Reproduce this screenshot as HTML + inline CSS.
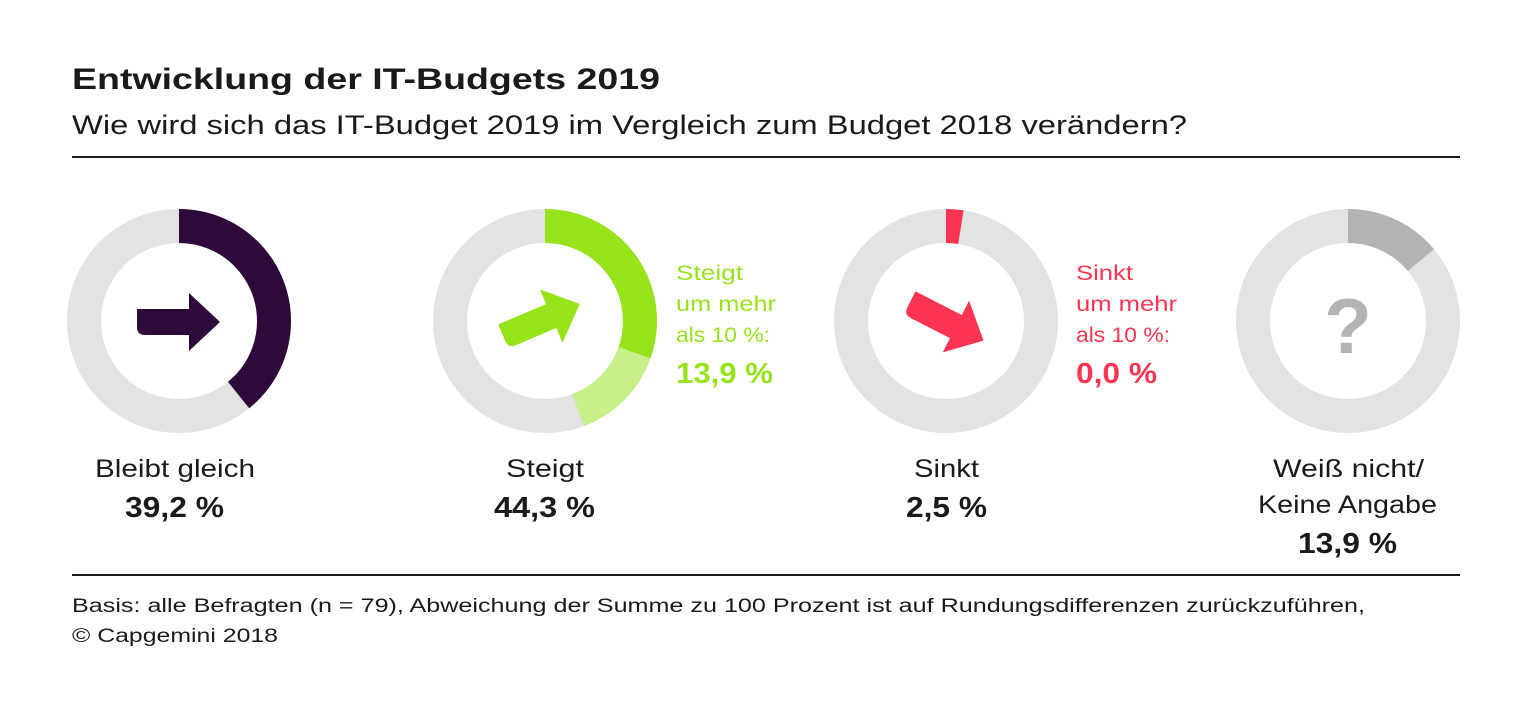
<!DOCTYPE html>
<html><head><meta charset="utf-8"><style>
html,body{margin:0;padding:0;background:#fff;}
body{width:1535px;height:709px;overflow:hidden;}
text{font-family:"Liberation Sans",sans-serif;}
</style></head><body>
<svg width="1535" height="709" viewBox="0 0 1535 709" xmlns="http://www.w3.org/2000/svg">
<defs>
<path id="arr" d="M-42,-13 L10,-13 L10,-29 L41,0 L10,29 L10,13 L-34,13 Q-42,13 -42,5 Z"/>
</defs>
<text x="72" y="89" font-size="30" font-weight="bold" fill="#1a1a1a" textLength="588" lengthAdjust="spacingAndGlyphs">Entwicklung der IT-Budgets 2019</text>
<text x="72" y="134" font-size="27" fill="#1a1a1a" textLength="1115" lengthAdjust="spacingAndGlyphs">Wie wird sich das IT-Budget 2019 im Vergleich zum Budget 2018 verändern?</text>
<rect x="72" y="156" width="1388" height="2" fill="#1a1a1a"/>
<rect x="72" y="574" width="1388" height="2" fill="#1a1a1a"/>
<text x="72" y="612" font-size="19" fill="#1a1a1a" textLength="1293" lengthAdjust="spacingAndGlyphs">Basis: alle Befragten (n = 79), Abweichung der Summe zu 100 Prozent ist auf Rundungsdifferenzen zurückzuführen,</text>
<text x="72" y="642" font-size="19" fill="#1a1a1a" textLength="206" lengthAdjust="spacingAndGlyphs">© Capgemini 2018</text>

<g fill="none" stroke-width="34">
<circle cx="179" cy="321" r="95" stroke="#e3e3e3"/>
<circle cx="179" cy="321" r="95" stroke="#2e0a3c" stroke-dasharray="234 1000" transform="rotate(-90 179 321)"/>
<circle cx="545" cy="321" r="95" stroke="#e3e3e3"/>
<circle cx="545" cy="321" r="95" stroke="#97e31a" stroke-dasharray="181.5 1000" transform="rotate(-90 545 321)"/>
<circle cx="545" cy="321" r="95" stroke="#c8f08a" stroke-dasharray="0 181.5 83 1000" transform="rotate(-90 545 321)"/>
<circle cx="946" cy="321" r="95" stroke="#e3e3e3"/>
<circle cx="946" cy="321" r="95" stroke="#ff3352" stroke-dasharray="15 1000" transform="rotate(-90 946 321)"/>
<circle cx="1348" cy="321" r="95" stroke="#e3e3e3"/>
<circle cx="1348" cy="321" r="95" stroke="#b3b3b3" stroke-dasharray="83 1000" transform="rotate(-90 1348 321)"/>
</g>
<use href="#arr" fill="#2e0a3c" transform="translate(179,322)"/>
<use href="#arr" fill="#97e31a" transform="translate(542,320) rotate(-23)"/>
<use href="#arr" fill="#ff3352" transform="translate(947,322) rotate(27)"/>
<text x="1348" y="353" font-size="78" font-weight="bold" fill="#b3b3b3" text-anchor="middle">?</text>

<g font-size="25" fill="#1a1a1a" lengthAdjust="spacingAndGlyphs">
<text x="95" y="477" textLength="160" lengthAdjust="spacingAndGlyphs">Bleibt gleich</text>
<text x="506" y="477" textLength="78" lengthAdjust="spacingAndGlyphs">Steigt</text>
<text x="914" y="477" textLength="65" lengthAdjust="spacingAndGlyphs">Sinkt</text>
<text x="1273" y="477" textLength="151" lengthAdjust="spacingAndGlyphs">Weiß nicht/</text>
<text x="1258" y="513" textLength="179" lengthAdjust="spacingAndGlyphs">Keine Angabe</text>
</g>
<g font-size="29" font-weight="bold" fill="#1a1a1a">
<text x="125" y="517" textLength="99" lengthAdjust="spacingAndGlyphs">39,2 %</text>
<text x="494" y="517" textLength="101" lengthAdjust="spacingAndGlyphs">44,3 %</text>
<text x="906" y="517" textLength="81" lengthAdjust="spacingAndGlyphs">2,5 %</text>
<text x="1298" y="553" textLength="99" lengthAdjust="spacingAndGlyphs">13,9 %</text>
</g>
<g font-size="21" fill="#97e31a">
<text x="676" y="280" textLength="67" lengthAdjust="spacingAndGlyphs">Steigt</text>
<text x="676" y="311" textLength="100" lengthAdjust="spacingAndGlyphs">um mehr</text>
<text x="676" y="342" textLength="94" lengthAdjust="spacingAndGlyphs">als 10 %:</text>
<text x="676" y="383" font-size="29" font-weight="bold" textLength="97" lengthAdjust="spacingAndGlyphs">13,9 %</text>
</g>
<g font-size="21" fill="#ff3352">
<text x="1076" y="280" textLength="57" lengthAdjust="spacingAndGlyphs">Sinkt</text>
<text x="1076" y="311" textLength="101" lengthAdjust="spacingAndGlyphs">um mehr</text>
<text x="1076" y="342" textLength="94" lengthAdjust="spacingAndGlyphs">als 10 %:</text>
<text x="1076" y="383" font-size="29" font-weight="bold" textLength="81" lengthAdjust="spacingAndGlyphs">0,0 %</text>
</g>
</svg>
</body></html>
